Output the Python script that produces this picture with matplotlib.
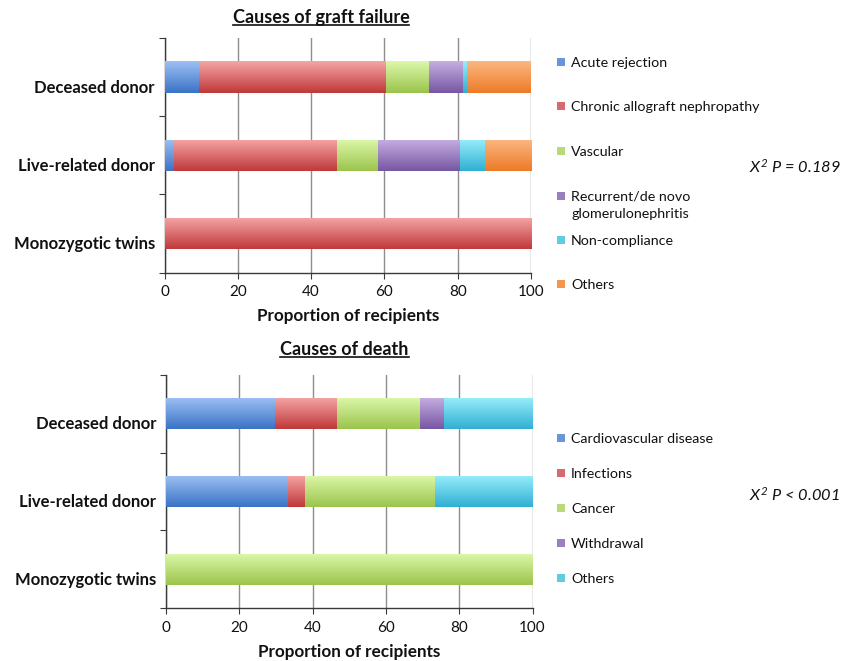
import matplotlib
matplotlib.use('Agg')
import matplotlib.pyplot as plt
import numpy as np
from matplotlib.colors import LinearSegmentedColormap, to_rgb
from matplotlib.patches import Rectangle
from matplotlib.lines import Line2D
import matplotlib.transforms as mtransforms

plt.rcParams['font.family'] = ['Lato', 'DejaVu Sans']
plt.rcParams['mathtext.fontset'] = 'custom'
plt.rcParams['mathtext.it'] = 'Lato:italic'
plt.rcParams['mathtext.rm'] = 'Lato:italic'

# ---------------- data ----------------
groups = ['Deceased donor', 'Live-related donor', 'Monozygotic twins']

graft_causes = ['Acute rejection', 'Chronic allograft nephropathy', 'Vascular',
                'Recurrent/de novo\nglomerulonephritis', 'Non-compliance', 'Others']
graft_acute = [9.3, 2.7, 0]
graft_chronic = [51.1, 44.4, 100]
graft_vascular = [11.7, 11.1, 0]
graft_recurrent = [9.3, 22.3, 0]
graft_noncompliance = [1.2, 6.9, 0]
graft_others = [17.4, 12.6, 0]

death_causes = ['Cardiovascular disease', 'Infections', 'Cancer', 'Withdrawal', 'Others']
death_cardio = [29.7, 33.2, 0]
death_infection = [17.0, 4.7, 0]
death_cancer = [22.6, 35.4, 100]
death_withdrawal = [6.5, 0, 0]
death_others = [24.2, 26.7, 0]

graft_p = r'$X^2$ P = 0.189'
death_p = r'$X^2$ P < 0.001'

# gradient colours (top, bottom) for each cause
BLUE = ('#9cc0f3', '#3b73c5')
RED = ('#f5a5a5', '#c0393b')
GREEN = ('#dcf8aa', '#9bc44c')
PURPLE = ('#c6aee2', '#7757a3')
CYAN = ('#98edfb', '#30b0d3')
ORANGE = ('#fcb781', '#ec7b28')

W, H = 841, 661
fig = plt.figure(figsize=(W / 100, H / 100), dpi=100)


def fx(px):
    return px / W


def fy(py):
    return 1 - py / H


def draw_panel(ax, series, colors, height_px):
    y = np.arange(len(groups))
    left = np.zeros(len(groups))
    for vals, (c_top, c_bot) in zip(series, colors):
        vals = np.asarray(vals, float)
        bars = ax.barh(y, vals, left=left, height=0.4, color=c_bot,
                       edgecolor='none', zorder=2)
        cmap = LinearSegmentedColormap.from_list('grad', [c_top, c_bot])
        for b in bars:
            if b.get_width() <= 0:
                continue
            x0, y0 = b.get_x(), b.get_y()
            w, h = b.get_width(), b.get_height()
            im = ax.imshow(np.linspace(0, 1, 64).reshape(-1, 1), cmap=cmap,
                           aspect='auto', extent=(x0, x0 + w, y0 + h, y0),
                           origin='upper', zorder=3, interpolation='bilinear')
            im.set_clip_path(b)
        left += vals

    ax.set_xlim(0, 100)
    ax.set_ylim(len(groups) - 0.5, -0.5)
    ax.set_xticks(range(0, 101, 20))
    ax.xaxis.grid(True, color='#8e8e8e', lw=1.0)
    ax.set_axisbelow(True)
    for s in ('top', 'right'):
        ax.spines[s].set_visible(False)
    for s in ('left', 'bottom'):
        ax.spines[s].set_color('#3a3a3a')
        ax.spines[s].set_linewidth(1.0)
    ax.set_yticks(np.arange(-0.5, len(groups), 1.0))
    ax.set_yticklabels([])
    ax.tick_params(axis='y', which='major', length=4, direction='out', color='#3a3a3a')
    ax.set_yticks(np.arange(len(groups)), minor=True)
    ax.set_yticklabels(groups, minor=True, fontsize=12, fontweight='bold', color='#111111')
    ax.tick_params(axis='y', which='minor', length=0, pad=7)
    off = mtransforms.ScaledTranslation(0, -9 / 100, fig.dpi_scale_trans)
    for lbl in ax.get_yticklabels(minor=True):
        lbl.set_transform(lbl.get_transform() + off)
    ax.tick_params(axis='x', length=4, direction='out', color='#3a3a3a',
                   labelsize=11, labelcolor='#111111', pad=5)
    ax.set_xlabel('Proportion of recipients', fontsize=12.3, fontweight='bold',
                  color='#111111')
    ax.xaxis.set_label_coords(0.5, -35.5 / height_px)


def draw_legend(labels, colors, ys, x_marker=557, x_text=571):
    for lab, (c_top, c_bot), ypx in zip(labels, colors, ys):
        mid = tuple(0.45 * a + 0.55 * b for a, b in zip(to_rgb(c_top), to_rgb(c_bot)))
        fig.patches.append(Rectangle((fx(x_marker), fy(ypx + 3.5)), fx(7.5), 7.5 / H,
                                     transform=fig.transFigure, facecolor=mid,
                                     edgecolor='none'))
        if '\n' in lab:
            # multi-line entry: first line sits on the marker row
            fig.text(fx(x_text), fy(ypx - 5.5), lab, fontsize=10.3, color='#111111',
                     ha='left', va='top', linespacing=1.6)
        else:
            fig.text(fx(x_text), fy(ypx), lab, fontsize=10.3, color='#111111',
                     ha='left', va='center_baseline')


# top panel: graft failure
h1 = 272.7 - 38
ax1 = fig.add_axes([fx(164.5), fy(272.7), fx(366.5), h1 / H])
graft_series = [graft_acute, graft_chronic, graft_vascular, graft_recurrent,
                graft_noncompliance, graft_others]
graft_colors = [BLUE, RED, GREEN, PURPLE, CYAN, ORANGE]
draw_panel(ax1, graft_series, graft_colors, h1)
draw_legend(graft_causes, graft_colors, [62, 106, 151, 196, 240, 284])
fig.text(fx(749), fy(167), graft_p, fontsize=11.8, fontstyle='italic',
         ha='left', va='center', color='#111111')

# bottom panel: death
h2 = 608 - 375
ax2 = fig.add_axes([fx(166), fy(608), fx(366.5), h2 / H])
death_series = [death_cardio, death_infection, death_cancer, death_withdrawal, death_others]
death_colors = [BLUE, RED, GREEN, PURPLE, CYAN]
draw_panel(ax2, death_series, death_colors, h2)
draw_legend(death_causes, death_colors, [438, 473, 508, 543, 578])
fig.text(fx(749), fy(495), death_p, fontsize=11.8, fontstyle='italic',
         ha='left', va='center', color='#111111')

# underlined titles
titles = [fig.text(fx(321), fy(17), 'Causes of graft failure', fontsize=13,
                   fontweight='bold', ha='center', va='center', color='#111111'),
          fig.text(fx(344.5), fy(350), 'Causes of death', fontsize=13,
                   fontweight='bold', ha='center', va='center', color='#111111')]
fig.canvas.draw()
r = fig.canvas.get_renderer()
for t in titles:
    bb = t.get_window_extent(r)
    yline = bb.y0 + 1
    fig.add_artist(Line2D([bb.x0 / W, bb.x1 / W], [yline / H, yline / H],
                          transform=fig.transFigure, color='#111111', lw=1.2))

fig.savefig('out.png', dpi=100)
